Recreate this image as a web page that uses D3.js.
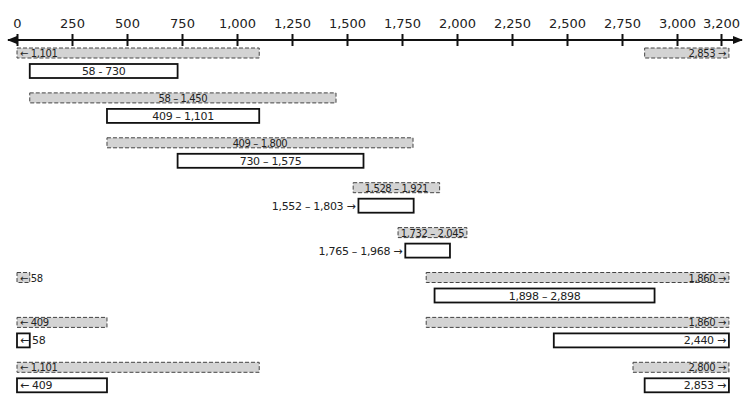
<!DOCTYPE html>
<html>
<head>
<meta charset="utf-8">
<script src="https://cdn.jsdelivr.net/npm/d3@7"></script>
<style>
  body { margin: 0; background: #fff; }
  svg { font-family: "DejaVu Sans", Verdana, sans-serif; }
</style>
</head>
<body>
<svg id="chart" width="750" height="409"></svg>
<script>
// valeurs de l'axe
const tickValues = [0, 250, 500, 750, 1000, 1250, 1500, 1750, 2000, 2250, 2500, 2750, 3000, 3200];
const openEnd = 3236; // fin des barres ouvertes "→"

// barres grises pointillées : [ligne, début, fin] (null = ouvert)
const grayBars = [
    [0, null, 1101], [0, 2853, null],
    [1, 58, 1450],
    [2, 409, 1800],
    [3, 1528, 1921],
    [4, 1732, 2045],
    [5, null, 58], [5, 1860, null],
    [6, null, 409], [6, 1860, null],
    [7, null, 1101], [7, 2800, null]
];

// barres blanches : [ligne, début, fin, étiquette à l'extérieur]
const whiteBars = [
    [0, 58, 730, false],
    [1, 409, 1101, false],
    [2, 730, 1575, false],
    [3, 1552, 1803, true],
    [4, 1765, 1968, true],
    [5, 1898, 2898, false],
    [6, null, 58, false], [6, 2440, null, false],
    [7, null, 409, false], [7, 2853, null, false]
];

const rows = d3.range(8);

const svg = d3.select("#chart");
const fmt = d3.format(",");

const x = d3.scaleLinear().domain([0, 3200]).range([17, 721]);
const y = d3.scaleBand().domain(rows).range([48, 48 + 8 * 44.9]).paddingInner(0);

// flèches
const defs = svg.append("defs");
defs.append("marker").attr("id", "arr").attr("viewBox", "0 0 10 10")
    .attr("refX", 9).attr("refY", 5).attr("markerWidth", 5).attr("markerHeight", 5)
    .attr("orient", "auto-start-reverse")
    .append("path").attr("d", "M0,1 L10,5 L0,9 Z").attr("fill", "#111");

// axe
const axisY = 40;
svg.append("line")
    .attr("x1", 8).attr("x2", 742).attr("y1", axisY).attr("y2", axisY)
    .attr("stroke", "#111").attr("stroke-width", 2)
    .attr("marker-start", "url(#arr)").attr("marker-end", "url(#arr)");

const axis = d3.axisTop(x).tickValues(tickValues).tickFormat(fmt).tickSizeInner(0).tickSizeOuter(0).tickPadding(12);
const gAxis = svg.append("g").attr("transform", `translate(0,${axisY})`).call(axis);
gAxis.select(".domain").remove();
gAxis.selectAll(".tick text").attr("font-size", 13).attr("fill", "#222")
    .attr("font-family", "DejaVu Sans, Verdana, sans-serif");
gAxis.selectAll(".tick line").attr("y1", -6).attr("y2", 6).attr("stroke", "#111").attr("stroke-width", 2);

function x0(lo) { return x(lo === null ? 0 : lo); }
function x1(hi) { return x(hi === null ? openEnd : hi); }

function labelOf(lo, hi, sep) {
    if (lo === null) return "\u2190 " + fmt(hi);
    if (hi === null) return fmt(lo) + " \u2192";
    return fmt(lo) + sep + fmt(hi);
}

// barres grises
const gGray = svg.append("g");
grayBars.forEach(([r, lo, hi]) => {
    const top = y(r);
    gGray.append("rect")
        .attr("x", x0(lo)).attr("y", top)
        .attr("width", x1(hi) - x0(lo)).attr("height", 10)
        .attr("fill", "#d3d3d3").attr("stroke", "#444")
        .attr("stroke-width", 1).attr("stroke-dasharray", "4,2");
    const t = gGray.append("text").attr("y", top + 9).attr("font-size", 10)
        .attr("letter-spacing", -0.4).attr("fill", "#222").text(labelOf(lo, hi, " \u2013 "));
    if (lo === null) t.attr("x", x0(lo) + 3).attr("text-anchor", "start");
    else if (hi === null) t.attr("x", x1(hi) - 3).attr("text-anchor", "end");
    else t.attr("x", (x0(lo) + x1(hi)) / 2).attr("text-anchor", "middle");
});

// barres blanches
const gWhite = svg.append("g");
whiteBars.forEach(([r, lo, hi, outside], i) => {
    const top = y(r) + 16;
    gWhite.append("rect")
        .attr("x", x0(lo)).attr("y", top)
        .attr("width", x1(hi) - x0(lo)).attr("height", 14)
        .attr("fill", "#fff").attr("stroke", "#111").attr("stroke-width", 1.8);
    const sep = i === 0 ? " - " : " \u2013 ";
    const t = gWhite.append("text").attr("y", top + 11).attr("font-size", 11)
        .attr("letter-spacing", -0.3).attr("fill", "#222");
    if (outside) {
        t.attr("x", x0(lo) - 3).attr("text-anchor", "end").text(labelOf(lo, hi, sep) + " \u2192");
    } else {
        t.text(labelOf(lo, hi, sep));
        if (lo === null) t.attr("x", x0(lo) + 3).attr("text-anchor", "start");
        else if (hi === null) t.attr("x", x1(hi) - 3).attr("text-anchor", "end");
        else t.attr("x", (x0(lo) + x1(hi)) / 2).attr("text-anchor", "middle");
    }
});
</script>
</body>
</html>
